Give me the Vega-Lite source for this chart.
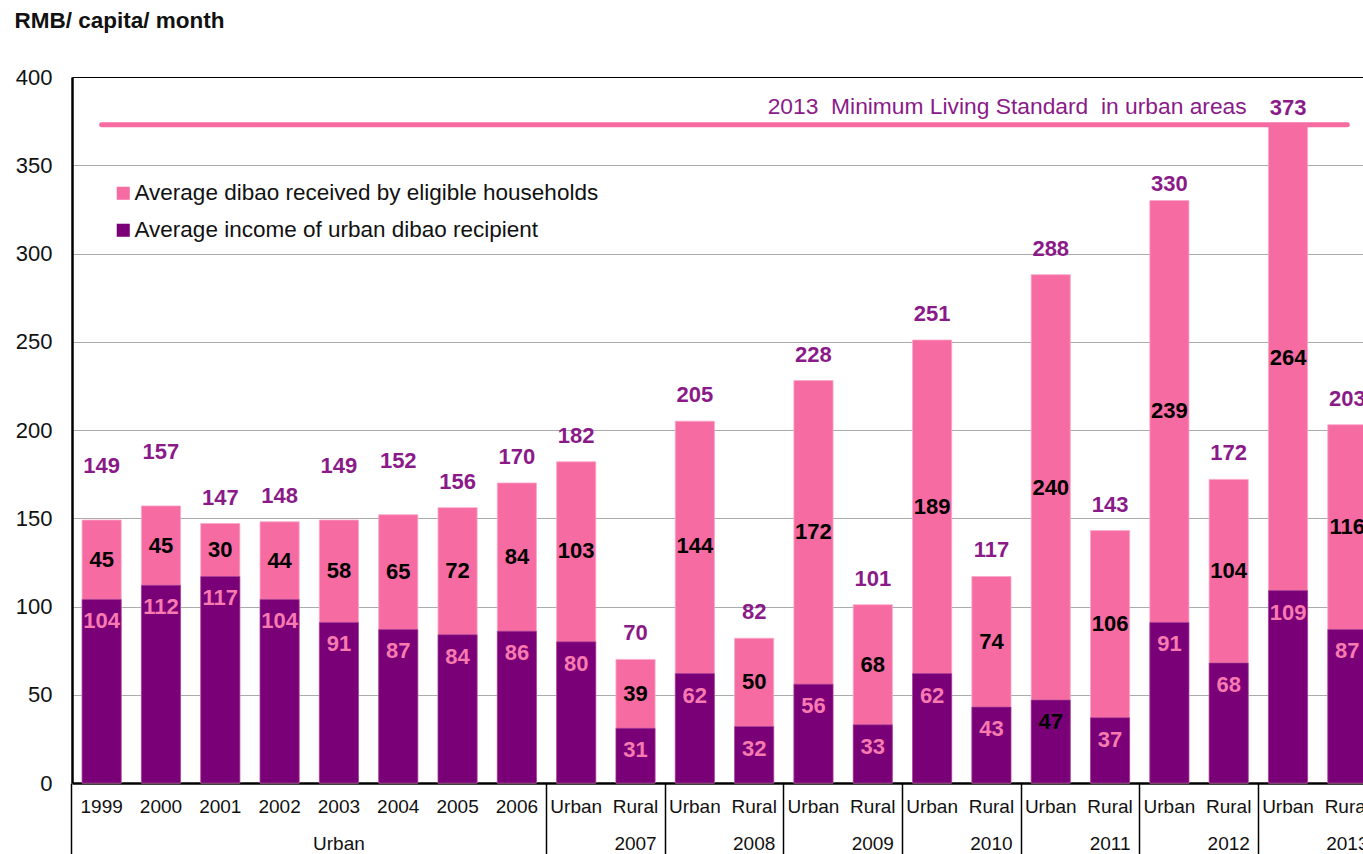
{
  "$schema": "https://vega.github.io/schema/vega-lite/v6.json",
  "width": 1291,
  "height": 706,
  "autosize": "none",
  "padding": {"left": 72, "top": 77, "right": 0, "bottom": 71},
  "background": "white",
  "config": {
    "view": {"stroke": null},
    "font": "Liberation Sans",
    "axis": {"labelFont": "Liberation Sans", "titleFont": "Liberation Sans"}
  },
  "datasets": {
    "bars": [
      {"cat": "1999", "group": "Urban", "income": 104, "dibao": 45, "total": 149},
      {"cat": "2000", "group": "Urban", "income": 112, "dibao": 45, "total": 157},
      {"cat": "2001", "group": "Urban", "income": 117, "dibao": 30, "total": 147},
      {"cat": "2002", "group": "Urban", "income": 104, "dibao": 44, "total": 148},
      {"cat": "2003", "group": "Urban", "income": 91, "dibao": 58, "total": 149},
      {"cat": "2004", "group": "Urban", "income": 87, "dibao": 65, "total": 152},
      {"cat": "2005", "group": "Urban", "income": 84, "dibao": 72, "total": 156},
      {"cat": "2006", "group": "Urban", "income": 86, "dibao": 84, "total": 170},
      {"cat": "2007 Urban", "group": "2007", "income": 80, "dibao": 103, "total": 182},
      {"cat": "2007 Rural", "group": "2007", "income": 31, "dibao": 39, "total": 70},
      {"cat": "2008 Urban", "group": "2008", "income": 62, "dibao": 144, "total": 205},
      {"cat": "2008 Rural", "group": "2008", "income": 32, "dibao": 50, "total": 82},
      {"cat": "2009 Urban", "group": "2009", "income": 56, "dibao": 172, "total": 228},
      {"cat": "2009 Rural", "group": "2009", "income": 33, "dibao": 68, "total": 101},
      {"cat": "2010 Urban", "group": "2010", "income": 62, "dibao": 189, "total": 251},
      {"cat": "2010 Rural", "group": "2010", "income": 43, "dibao": 74, "total": 117},
      {"cat": "2011 Urban", "group": "2011", "income": 47, "dibao": 240, "total": 288},
      {"cat": "2011 Rural", "group": "2011", "income": 37, "dibao": 106, "total": 143},
      {"cat": "2012 Urban", "group": "2012", "income": 91, "dibao": 239, "total": 330},
      {"cat": "2012 Rural", "group": "2012", "income": 68, "dibao": 104, "total": 172},
      {"cat": "2013 Urban", "group": "2013", "income": 109, "dibao": 264, "total": 373},
      {"cat": "2013 Rural", "group": "2013", "income": 87, "dibao": 116, "total": 203}
    ],
    "standard": [
      {"label": "2013\u00a0\u00a0Minimum Living Standard\u00a0\u00a0in urban areas", "value": 373}
    ]
  },
  "data": {"name": "bars"},
  "resolve": {"axis": {"x": "independent"}},
  "layer": [
    {
      "mark": {"type": "bar", "color": "#F76BA3", "stroke": "#FBA8C8", "strokeWidth": 0.8},
      "encoding": {
        "x": {
          "field": "cat", "type": "nominal",
          "scale": {
            "domain": ["1999","2000","2001","2002","2003","2004","2005","2006","2007 Urban","2007 Rural","2008 Urban","2008 Rural","2009 Urban","2009 Rural","2010 Urban","2010 Rural","2011 Urban","2011 Rural","2012 Urban","2012 Rural","2013 Urban","2013 Rural"],
            "range": [0, 1305],
            "paddingInner": 0.34, "paddingOuter": 0.17
          },
          "axis": {
            "title": null, "orient": "bottom", "ticks": false, "grid": false,
            "domainColor": "black", "domainWidth": 2.5,
            "labelExpr": "peek(split(datum.label, ' '))",
            "labelFontSize": 19, "labelColor": "#111", "labelPadding": 14, "labelAngle": 0
          }
        },
        "y": {
          "field": "total", "type": "quantitative", "stack": null,
          "scale": {"domain": [0, 400], "nice": false},
          "axis": {
            "values": [0, 50, 100, 150, 200, 250, 300, 350, 400],
            "title": "RMB/ capita/ month",
            "titleAngle": 0, "titleAlign": "left", "titleBaseline": "alphabetic",
            "titleX": -58, "titleY": -50,
            "titleFontSize": 22.5, "titleFontWeight": "bold", "titleColor": "#111",
            "ticks": false, "labelPadding": 20, "labelFontSize": 22, "labelColor": "#111",
            "domainColor": "black", "domainWidth": 2.5,
            "grid": true, "gridWidth": 1,
            "gridColor": {"condition": {"test": "datum.value == 400", "value": "black"}, "value": "#ABABAB"}
          }
        },
        "color": {
          "datum": "Average dibao received by eligible households",
          "type": "nominal",
          "scale": {
            "domain": ["Average dibao received by eligible households", "Average income of urban dibao recipient"],
            "range": ["#F76BA3", "#7A0077"]
          },
          "legend": {
            "title": null, "orient": "none", "legendX": 40, "legendY": 105,
            "symbolType": "square", "symbolSize": 170, "symbolStrokeWidth": 0,
            "labelFontSize": 22.5, "labelColor": "#111", "labelOffset": 0, "labelLimit": 0,
            "rowPadding": 14, "padding": 0
          }
        }
      }
    },
    {
      "mark": {"type": "bar", "color": "#7A0077", "stroke": "#A24CA0", "strokeWidth": 0.6},
      "encoding": {
        "x": {
          "field": "cat", "type": "nominal",
          "axis": {
            "title": null, "orient": "bottom", "labels": false, "domain": false, "grid": false,
            "values": ["1999", "2007 Urban", "2008 Urban", "2009 Urban", "2010 Urban", "2011 Urban", "2012 Urban", "2013 Urban"],
            "bandPosition": -0.2576, "ticks": true, "tickSize": 80, "tickColor": "black", "tickWidth": 1.5
          }
        },
        "y": {"field": "income", "type": "quantitative", "stack": null},
        "color": {"datum": "Average income of urban dibao recipient", "type": "nominal"}
      }
    },
    {
      "transform": [{"fold": ["income", "dibao"], "as": ["key", "val"]}],
      "mark": {"type": "text", "fontWeight": "bold", "fontSize": 22, "baseline": "middle", "color": "black"},
      "encoding": {
        "x": {
          "field": "cat", "type": "nominal",
          "axis": {
            "title": null, "orient": "bottom", "domain": false, "grid": false, "ticks": false,
            "values": ["2003", "2007 Rural", "2008 Rural", "2009 Rural", "2010 Rural", "2011 Rural", "2012 Rural", "2013 Rural"],
            "bandPosition": -0.2576,
            "labelExpr": "datum.label == '2003' ? 'Urban' : slice(datum.label, 0, 4)",
            "labelFontSize": 19, "labelColor": "#111", "labelPadding": 51, "labelAngle": 0
          }
        },
        "y": {"field": "val", "type": "quantitative", "stack": "zero", "bandPosition": 0.5},
        "order": {"field": "key", "sort": "descending"},
        "text": {"field": "val", "type": "quantitative"},
        "opacity": {"condition": {"test": "datum.key == 'income'", "value": 0}, "value": 1}
      }
    },
    {
      "mark": {"type": "text", "fontWeight": "bold", "fontSize": 22, "baseline": "middle", "dy": 22},
      "encoding": {
        "x": {"field": "cat", "type": "nominal", "axis": null},
        "y": {"field": "income", "type": "quantitative"},
        "text": {"field": "income", "type": "quantitative"},
        "color": {"condition": {"test": "datum.cat == '2011 Urban'", "value": "black"}, "value": "#F77BB0"}
      }
    },
    {
      "transform": [{"filter": {"field": "cat", "oneOf": ["1999", "2000", "2003", "2004"]}}],
      "mark": {"type": "text", "fontWeight": "bold", "fontSize": 22, "baseline": "middle", "dy": -54, "color": "#8B1A89"},
      "encoding": {
        "x": {"field": "cat", "type": "nominal", "axis": null},
        "y": {"field": "total", "type": "quantitative"},
        "text": {"field": "total", "type": "quantitative"}
      }
    },
    {
      "transform": [{"filter": {"field": "cat", "oneOf": ["2012 Urban", "2013 Urban"]}}],
      "mark": {"type": "text", "fontWeight": "bold", "fontSize": 22, "baseline": "middle", "dy": -17, "color": "#8B1A89"},
      "encoding": {
        "x": {"field": "cat", "type": "nominal", "axis": null},
        "y": {"field": "total", "type": "quantitative"},
        "text": {"field": "total", "type": "quantitative"}
      }
    },
    {
      "transform": [{"filter": {"not": {"field": "cat", "oneOf": ["1999", "2000", "2003", "2004", "2012 Urban", "2013 Urban"]}}}],
      "mark": {"type": "text", "fontWeight": "bold", "fontSize": 22, "baseline": "middle", "dy": -26, "color": "#8B1A89"},
      "encoding": {
        "x": {"field": "cat", "type": "nominal", "axis": null},
        "y": {"field": "total", "type": "quantitative"},
        "text": {"field": "total", "type": "quantitative"}
      }
    },
    {
      "data": {"name": "standard"},
      "mark": {"type": "rule", "color": "#F76BA3", "strokeWidth": 5, "strokeCap": "round"},
      "encoding": {
        "x": {"datum": "1999", "type": "nominal", "axis": null},
        "x2": {"datum": "2013 Rural"},
        "y": {"field": "value", "type": "quantitative"}
      }
    },
    {
      "data": {"name": "standard"},
      "mark": {"type": "text", "fontSize": 22.8, "align": "right", "baseline": "middle", "dx": 18, "dy": -18, "color": "#8B1A89"},
      "encoding": {
        "x": {"datum": "2012 Rural", "type": "nominal", "axis": null},
        "y": {"field": "value", "type": "quantitative"},
        "text": {"field": "label"}
      }
    }
  ]
}
